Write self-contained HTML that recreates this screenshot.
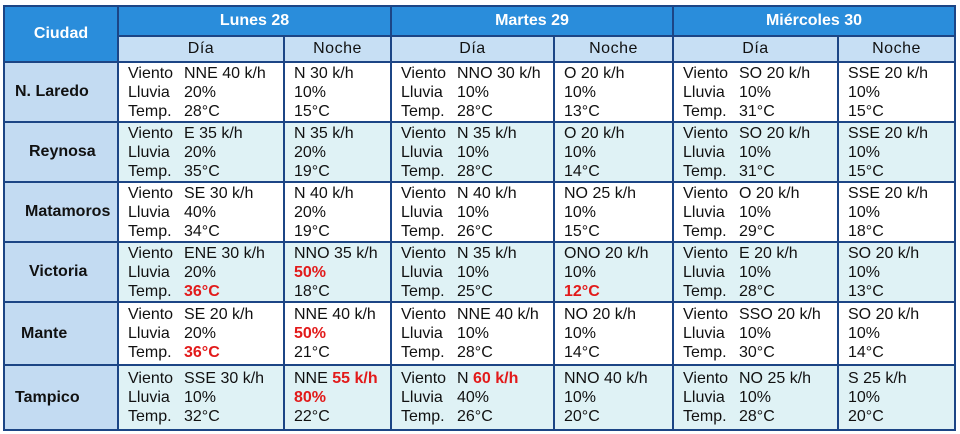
<!DOCTYPE html>
<html><head><meta charset="utf-8"><style>
body{margin:0;background:#fff;width:960px;height:434px;overflow:hidden;font-family:"Liberation Sans",sans-serif;}
table{position:absolute;left:3px;top:5px;border-collapse:collapse;table-layout:fixed;}
td,th{border:2px solid #1c4585;padding:0;font-size:16px;color:#111;}
th{font-weight:bold;}
.h1{background:#2a8ddb;color:#fff;font-size:16px;height:28px;text-align:center;}
.h2{background:#c7dff4;font-weight:normal;height:24px;text-align:center;letter-spacing:0.5px;}
.city{background:#c3dbf2;font-weight:bold;font-size:16px;text-align:left;padding-left:10px;}
td.d{padding-left:9px;line-height:19px;vertical-align:middle;white-space:nowrap;}
td.n{padding-left:9px;line-height:19px;white-space:nowrap;}
.l{display:inline-block;width:56px;}
.w td.d,.w td.n{background:#fff}
.c td.d,.c td.n{background:#dff2f5}
.r{color:#e21a1a;font-weight:bold}
</style></head><body>
<table>
<colgroup><col style="width:114px"><col style="width:166px"><col style="width:107px"><col style="width:163px"><col style="width:119px"><col style="width:165px"><col style="width:117px"></colgroup>
<tr><th rowspan="2" class="h1" style="background:#2a8ddb;color:#fff">Ciudad</th><th colspan="2" class="h1">Lunes 28</th><th colspan="2" class="h1">Martes 29</th><th colspan="2" class="h1">Miércoles 30</th></tr>
<tr><th class="h2">Día</th><th class="h2">Noche</th><th class="h2">Día</th><th class="h2">Noche</th><th class="h2">Día</th><th class="h2">Noche</th></tr>
<tr class="w" style="height:60px"><td class="city">N. Laredo</td>
<td class="d"><span class="l">Viento</span>NNE 40 k/h<br><span class="l">Lluvia</span>20%<br><span class="l">Temp.</span>28°C</td>
<td class="n">N 30 k/h<br>10%<br>15°C</td>
<td class="d"><span class="l">Viento</span>NNO 30 k/h<br><span class="l">Lluvia</span>10%<br><span class="l">Temp.</span>28°C</td>
<td class="n">O 20 k/h<br>10%<br>13°C</td>
<td class="d"><span class="l">Viento</span>SO 20 k/h<br><span class="l">Lluvia</span>10%<br><span class="l">Temp.</span>31°C</td>
<td class="n">SSE 20 k/h<br>10%<br>15°C</td></tr>
<tr class="c" style="height:60px"><td class="city" style="padding-left:24px">Reynosa</td>
<td class="d"><span class="l">Viento</span>E 35 k/h<br><span class="l">Lluvia</span>20%<br><span class="l">Temp.</span>35°C</td>
<td class="n">N 35 k/h<br>20%<br>19°C</td>
<td class="d"><span class="l">Viento</span>N 35 k/h<br><span class="l">Lluvia</span>10%<br><span class="l">Temp.</span>28°C</td>
<td class="n">O 20 k/h<br>10%<br>14°C</td>
<td class="d"><span class="l">Viento</span>SO 20 k/h<br><span class="l">Lluvia</span>10%<br><span class="l">Temp.</span>31°C</td>
<td class="n">SSE 20 k/h<br>10%<br>15°C</td></tr>
<tr class="w" style="height:60px"><td class="city" style="padding-left:20px">Matamoros</td>
<td class="d"><span class="l">Viento</span>SE 30 k/h<br><span class="l">Lluvia</span>40%<br><span class="l">Temp.</span>34°C</td>
<td class="n">N 40 k/h<br>20%<br>19°C</td>
<td class="d"><span class="l">Viento</span>N 40 k/h<br><span class="l">Lluvia</span>10%<br><span class="l">Temp.</span>26°C</td>
<td class="n">NO 25 k/h<br>10%<br>15°C</td>
<td class="d"><span class="l">Viento</span>O 20 k/h<br><span class="l">Lluvia</span>10%<br><span class="l">Temp.</span>29°C</td>
<td class="n">SSE 20 k/h<br>10%<br>18°C</td></tr>
<tr class="c" style="height:60px"><td class="city" style="padding-left:24px">Victoria</td>
<td class="d"><span class="l">Viento</span>ENE 30 k/h<br><span class="l">Lluvia</span>20%<br><span class="l">Temp.</span><span class="r">36°C</span></td>
<td class="n">NNO 35 k/h<br><span class="r">50%</span><br>18°C</td>
<td class="d"><span class="l">Viento</span>N 35 k/h<br><span class="l">Lluvia</span>10%<br><span class="l">Temp.</span>25°C</td>
<td class="n">ONO 20 k/h<br>10%<br><span class="r">12°C</span></td>
<td class="d"><span class="l">Viento</span>E 20 k/h<br><span class="l">Lluvia</span>10%<br><span class="l">Temp.</span>28°C</td>
<td class="n">SO 20 k/h<br>10%<br>13°C</td></tr>
<tr class="w" style="height:63px"><td class="city" style="padding-left:16px">Mante</td>
<td class="d"><span class="l">Viento</span>SE 20 k/h<br><span class="l">Lluvia</span>20%<br><span class="l">Temp.</span><span class="r">36°C</span></td>
<td class="n">NNE 40 k/h<br><span class="r">50%</span><br>21°C</td>
<td class="d"><span class="l">Viento</span>NNE 40 k/h<br><span class="l">Lluvia</span>10%<br><span class="l">Temp.</span>28°C</td>
<td class="n">NO 20 k/h<br>10%<br>14°C</td>
<td class="d"><span class="l">Viento</span>SSO 20 k/h<br><span class="l">Lluvia</span>10%<br><span class="l">Temp.</span>30°C</td>
<td class="n">SO 20 k/h<br>10%<br>14°C</td></tr>
<tr class="c" style="height:65px"><td class="city">Tampico</td>
<td class="d"><span class="l">Viento</span>SSE 30 k/h<br><span class="l">Lluvia</span>10%<br><span class="l">Temp.</span>32°C</td>
<td class="n">NNE <span class="r">55 k/h</span><br><span class="r">80%</span><br>22°C</td>
<td class="d"><span class="l">Viento</span>N <span class="r">60 k/h</span><br><span class="l">Lluvia</span>40%<br><span class="l">Temp.</span>26°C</td>
<td class="n">NNO 40 k/h<br>10%<br>20°C</td>
<td class="d"><span class="l">Viento</span>NO 25 k/h<br><span class="l">Lluvia</span>10%<br><span class="l">Temp.</span>28°C</td>
<td class="n">S 25 k/h<br>10%<br>20°C</td></tr>
</table>
</body></html>
